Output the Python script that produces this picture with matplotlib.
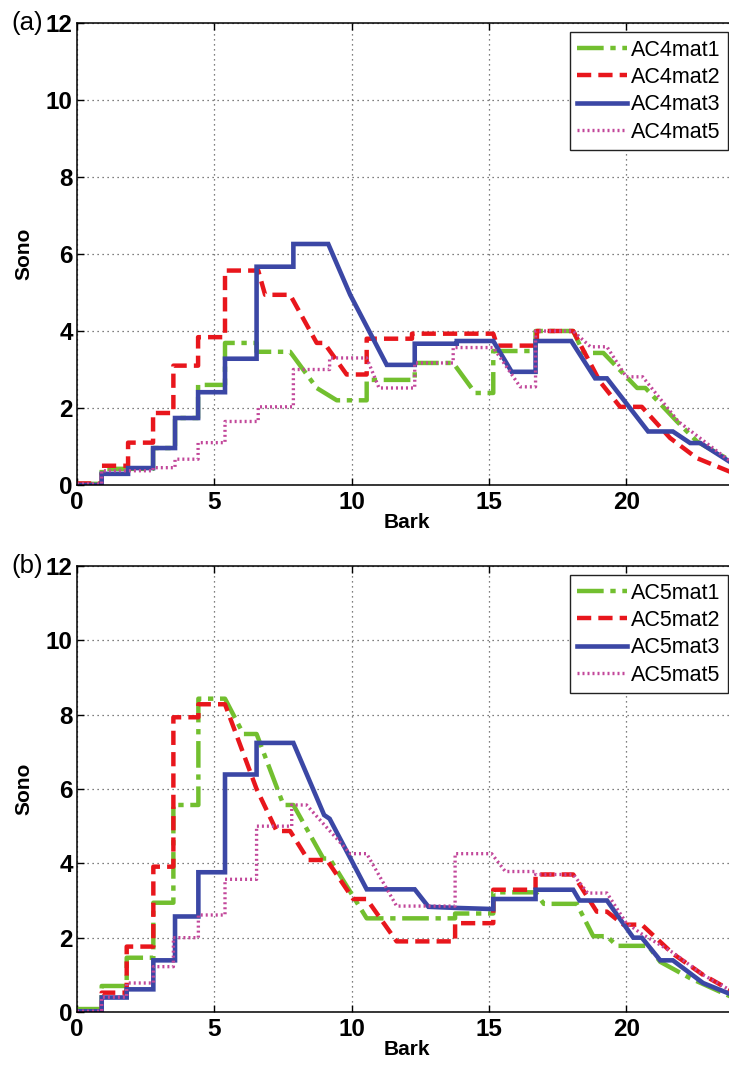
import matplotlib
matplotlib.use('Agg')
import matplotlib.pyplot as plt

plt.rcParams['font.family'] = ['Liberation Sans', 'DejaVu Sans']

# ---- panel (a) ----
bark_a1 = [0, 0.9, 0.9, 2.77, 2.77, 3.57, 3.57, 4.41, 4.41, 5.39, 5.39, 6.54, 6.54, 7.76, 8.73, 9.46,
           10.55, 10.55, 12.3, 12.3, 13.7, 14.5, 15.16, 15.16, 16.7, 16.7, 18.07, 18.45, 19.17, 20.4,
           20.7, 21.85, 22.58, 24.0]
sono_a1 = [0.03, 0.03, 0.42, 0.42, 0.96, 0.96, 1.74, 1.74, 2.6, 2.6, 3.69, 3.69, 3.46, 3.46, 2.52, 2.2,
           2.2, 2.73, 2.73, 3.17, 3.17, 2.39, 2.39, 3.48, 3.48, 4.0, 4.0, 3.43, 3.43, 2.52,
           2.52, 1.65, 1.13, 0.55]

bark_a2 = [0, 0.9, 0.9, 1.86, 1.86, 2.77, 2.77, 3.51, 3.51, 4.41, 4.41, 5.39, 5.39, 6.6, 6.85, 7.76,
           8.73, 9.0, 9.82, 10.55, 10.55, 12.2, 12.2, 15.16, 15.3, 16.75, 16.75, 18.07, 19.05, 19.78,
           20.57, 21.6, 22.57, 24.0]
sono_a2 = [0.04, 0.04, 0.5, 0.5, 1.1, 1.1, 1.87, 1.87, 3.1, 3.1, 3.84, 3.84, 5.57, 5.57, 4.94, 4.94,
           3.69, 3.69, 2.87, 2.87, 3.8, 3.8, 3.93, 3.93, 3.62, 3.62, 4.0, 4.0, 2.68, 2.03,
           2.03, 1.22, 0.7, 0.28]

bark_a3 = [0, 0.9, 0.9, 1.86, 1.86, 2.77, 2.77, 3.57, 3.57, 4.41, 4.41, 5.39, 5.39, 6.54, 6.54, 7.88,
           7.88, 9.15, 9.95, 11.28, 12.3, 12.3, 13.83, 13.83, 15.16, 15.83, 16.7, 16.7, 18.0, 18.87,
           19.3, 20.8, 21.7, 22.33, 22.7, 24.0]
sono_a3 = [0, 0, 0.29, 0.29, 0.44, 0.44, 0.96, 0.96, 1.74, 1.74, 2.41, 2.41, 3.28, 3.28, 5.67, 5.67,
           6.26, 6.26, 4.94, 3.12, 3.12, 3.67, 3.67, 3.74, 3.74, 2.94, 2.94, 3.74, 3.74, 2.77,
           2.77, 1.39, 1.39, 1.09, 1.09, 0.5]

bark_a5 = [0, 0.9, 0.9, 2.77, 2.77, 3.57, 3.57, 4.41, 4.41, 5.39, 5.39, 6.6, 6.6, 7.88, 7.88, 9.2,
           9.2, 10.55, 11.0, 12.3, 12.3, 13.7, 13.7, 15.16, 16.14, 16.7, 16.7, 18.07, 18.7, 19.3,
           20.0, 20.6, 21.9, 24.0]
sono_a5 = [0.03, 0.03, 0.37, 0.37, 0.45, 0.45, 0.67, 0.67, 1.1, 1.1, 1.65, 1.65, 2.03, 2.03, 3.0, 3.0,
           3.3, 3.3, 2.52, 2.52, 3.17, 3.17, 3.57, 3.57, 2.55, 2.55, 4.0, 4.0, 3.59, 3.59,
           2.81, 2.81, 1.65, 0.5]

# ---- panel (b) ----
bark_b1 = [0, 0.9, 0.9, 1.81, 1.81, 2.78, 2.78, 3.51, 3.51, 4.42, 4.42, 5.39, 6.06, 6.54, 7.52, 7.88,
           8.97, 9.2, 10.55, 13.77, 13.77, 15.16, 15.16, 16.7, 17.0, 18.2, 18.8, 19.3, 19.66, 20.8,
           21.24, 22.33, 24.0]
sono_b1 = [0.08, 0.08, 0.7, 0.7, 1.46, 1.46, 2.94, 2.94, 5.57, 5.57, 8.43, 8.43, 7.48, 7.48, 5.57, 5.57,
           4.13, 4.13, 2.52, 2.52, 2.65, 2.65, 3.22, 3.22, 2.91, 2.91, 2.04, 2.04, 1.78, 1.78,
           1.35, 0.91, 0.35]

bark_b2 = [0, 0.9, 0.9, 1.81, 1.81, 2.78, 2.78, 3.51, 3.51, 4.42, 4.42, 5.39, 6.54, 7.27, 7.76, 8.42,
           9.1, 10.06, 10.55, 11.64, 13.77, 13.77, 15.16, 15.16, 16.7, 16.7, 18.07, 18.93, 19.3, 19.9,
           20.57, 21.7, 22.8, 24.0]
sono_b2 = [0.02, 0.02, 0.52, 0.52, 1.76, 1.76, 3.91, 3.91, 7.93, 7.93, 8.28, 8.28, 6.0, 4.87, 4.87, 4.09,
           4.09, 3.04, 3.04, 1.9, 1.9, 2.39, 2.39, 3.29, 3.29, 3.7, 3.7, 2.7, 2.7, 2.35,
           2.35, 1.57, 1.0, 0.5]

bark_b3 = [0, 0.9, 0.9, 1.81, 1.81, 2.78, 2.78, 3.57, 3.57, 4.42, 4.42, 5.39, 5.39, 6.54, 6.54, 7.88,
           9.0, 9.2, 10.55, 12.3, 12.8, 13.83, 15.16, 15.16, 16.7, 16.7, 18.07, 18.3, 19.3, 20.26,
           20.57, 21.24, 21.7, 22.8, 24.0]
sono_b3 = [0.02, 0.02, 0.39, 0.39, 0.61, 0.61, 1.39, 1.39, 2.57, 2.57, 3.76, 3.76, 6.39, 6.39, 7.24, 7.24,
           5.3, 5.2, 3.3, 3.3, 2.83, 2.8, 2.77, 3.04, 3.04, 3.29, 3.29, 3.0, 3.0, 2.0,
           2.0, 1.39, 1.39, 0.78, 0.42]

bark_b5 = [0, 0.9, 0.9, 1.81, 1.81, 2.78, 2.78, 3.51, 3.51, 4.42, 4.42, 5.39, 5.39, 6.54, 6.54, 7.82,
           7.82, 8.36, 9.95, 10.55, 11.64, 13.77, 13.77, 15.1, 15.6, 16.7, 16.7, 18.07, 18.6, 19.3,
           20.0, 20.57, 21.7, 22.8, 24.0]
sono_b5 = [0.02, 0.02, 0.4, 0.4, 0.78, 0.78, 1.22, 1.22, 2.0, 2.0, 2.61, 2.61, 3.57, 3.57, 5.0, 5.0,
           5.57, 5.57, 4.26, 4.26, 2.85, 2.85, 4.26, 4.26, 3.78, 3.78, 3.7, 3.7, 3.2, 3.2,
           2.4, 2.1, 1.6, 1.0, 0.5]

labels_a = ['AC4mat1', 'AC4mat2', 'AC4mat3', 'AC4mat5']
labels_b = ['AC5mat1', 'AC5mat2', 'AC5mat3', 'AC5mat5']
xticks = [0, 5, 10, 15, 20]
yticks = [0, 2, 4, 6, 8, 10, 12]

c_green = '#72bf2f'
c_red = '#e8161c'
c_blue = '#3b47a5'
c_mag = '#c2479a'

W, H = 729, 1081
fig = plt.figure(figsize=(W / 100, H / 100), dpi=100)
ax1 = fig.add_axes([77 / W, 1 - 485 / H, 659 / W, 462 / H])
ax2 = fig.add_axes([77 / W, 1 - 1012 / H, 659 / W, 446 / H])


def draw(ax, data, labels, tag, ypix):
    styles = [
        dict(color=c_green, lw=3.2, dashes=(6, 1.5, 1.2, 1.5)),
        dict(color=c_red, lw=3.2, dashes=(3.2, 1.6)),
        dict(color=c_blue, lw=3.3, linestyle='-'),
        dict(color=c_mag, lw=2.4, dashes=(0.6, 0.9)),
    ]
    for (bx, sy), st, lab in zip(data, styles, labels):
        ax.plot(bx, sy, label=lab, solid_joinstyle='miter', dash_capstyle='butt', **st)
    ax.set_xlim(0, 24)
    ax.set_ylim(0, 12)
    ax.set_xticks(xticks)
    ax.set_yticks(yticks)
    ax.grid(True, linestyle=(0, (1, 3)), color='#555555', linewidth=0.9)
    ax.tick_params(direction='in', length=5, width=1, top=True, right=True,
                   labelsize=17.5, pad=3)
    ax.tick_params(axis='x', pad=4)
    for t in ax.get_xticklabels() + ax.get_yticklabels():
        t.set_fontweight('bold')
    for s in ax.spines.values():
        s.set_linewidth(1.1)
    ax.set_ylabel('Sono', fontsize=15, fontweight='bold')
    ax.yaxis.set_label_coords(-44 / 659, 0.5)
    ax.set_xlabel('Bark', fontsize=15, fontweight='bold', va='top')
    hpx = ax.get_position().height * H
    ax.xaxis.set_label_coords(0.5, -28 / hpx)
    leg = ax.legend(loc='upper right', bbox_to_anchor=(0.988, 1 - 9 / hpx), borderaxespad=0,
                    fontsize=15.5, fancybox=False, framealpha=1, edgecolor='#222222',
                    handlelength=2.3, handletextpad=0.2, labelspacing=0.3, borderpad=0.35)
    leg.get_frame().set_linewidth(1.0)
    fig.text(11 / W, 1 - ypix / H, tag, fontsize=18.5, va='center', ha='left')


draw(ax1, [(bark_a1, sono_a1), (bark_a2, sono_a2), (bark_a3, sono_a3), (bark_a5, sono_a5)],
     labels_a, '(a)', 23)
draw(ax2, [(bark_b1, sono_b1), (bark_b2, sono_b2), (bark_b3, sono_b3), (bark_b5, sono_b5)],
     labels_b, '(b)', 566)

fig.savefig('out.png', dpi=100)
